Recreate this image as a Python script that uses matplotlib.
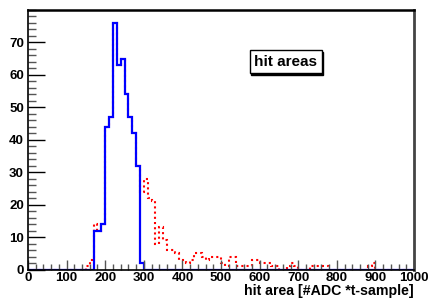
import numpy as np
import matplotlib.pyplot as plt
import matplotlib.transforms as mtransforms
from matplotlib.ticker import MultipleLocator

# histogram bins: 10 units wide, 0..1000
bin_width = 10
x_max = 1000

# blue histogram (solid), counts from 170 upwards
blue_start = 170
blue_counts = [12, 12, 14, 44, 47, 76, 63, 65, 54, 47, 42, 32, 2]

# red histogram (dotted), counts from 150 upwards
red_start = 150
red_counts = [1, 3, 14,
              12, 14, 44, 47, 76, 63, 65, 54, 47, 42, 32,
              24, 28, 22, 21, 8, 13, 9, 6, 6, 5,
              3, 3, 2, 3, 5, 5, 4, 3, 4, 4,
              4, 2, 1, 4, 4, 1, 1, 1, 1, 3,
              3, 2, 2, 2, 1, 1, 0, 0, 1, 2,
              1, 0, 0, 0, 1, 1, 1, 1, 1, 0,
              0, 0, 0, 0, 0, 0, 0, 0, 0, 1,
              2]

y_ticks = [0, 10, 20, 30, 40, 50, 60, 70]
x_ticks = [0, 100, 200, 300, 400, 500, 600, 700, 800, 900, 1000]


def full_hist(start, counts):
    h = np.zeros(x_max // bin_width)
    i0 = start // bin_width
    h[i0:i0 + len(counts)] = counts
    return h


edges = np.arange(0, x_max + bin_width, bin_width)
blue = full_hist(blue_start, blue_counts)
red = full_hist(red_start, red_counts)

plt.rcParams['font.family'] = ['Liberation Sans', 'DejaVu Sans']
plt.rcParams['font.weight'] = 'bold'

fig = plt.figure(figsize=(4.3, 3.02), dpi=100)
ax = fig.add_axes([0.0651, 0.1076, 0.963 - 0.0651, 0.967 - 0.1076])

ax.stairs(red, edges, color='#ff0000', linewidth=1.5, linestyle=(0, (1, 1.5)))
ax.stairs(blue, edges, color='#0000ff', linewidth=1.6)

ax.set_xlim(0, x_max)
ax.set_ylim(0, 80)
ax.set_xticks(x_ticks)
ax.set_yticks(y_ticks)
ax.xaxis.set_minor_locator(MultipleLocator(20))
ax.yaxis.set_minor_locator(MultipleLocator(2))
ax.tick_params(axis='both', which='both', direction='in', labelsize=9.5,
               top=False, right=False)
ax.tick_params(axis='y', which='major', length=12, width=1, pad=3)
ax.tick_params(axis='y', which='minor', length=6, width=1, color='#555555')
ax.tick_params(axis='x', which='major', length=7, width=1, color='#555555', pad=2)
ax.tick_params(axis='x', which='minor', length=4, width=1, color='#555555')
for lbl in ax.get_xticklabels() + ax.get_yticklabels():
    lbl.set_fontweight('bold')

ax.spines['top'].set_linewidth(1.8)
ax.spines['left'].set_linewidth(1.2)
ax.spines['right'].set_linewidth(2)
ax.spines['right'].set_color('#444444')
ax.spines['bottom'].set_linewidth(1.2)

ax.set_xlabel('hit area [#ADC *t-sample]', fontsize=10.2, fontweight='bold',
              loc='right', labelpad=0)

# label box with a small drop shadow, ROOT style
box_x, box_y = 0.668, 0.80
shadow = mtransforms.offset_copy(ax.transAxes, fig=fig, x=1.5, y=-1.5, units='dots')
ax.text(box_x, box_y, 'hit areas', transform=shadow, fontsize=11,
        fontweight='bold', ha='center', va='center', color='black',
        bbox=dict(boxstyle='square,pad=0.3', facecolor='black',
                  edgecolor='black', linewidth=1))
ax.text(box_x, box_y, 'hit areas', transform=ax.transAxes, fontsize=11,
        fontweight='bold', ha='center', va='center',
        bbox=dict(boxstyle='square,pad=0.3', facecolor='white',
                  edgecolor='black', linewidth=1))

fig.savefig('out.png', dpi=100)
